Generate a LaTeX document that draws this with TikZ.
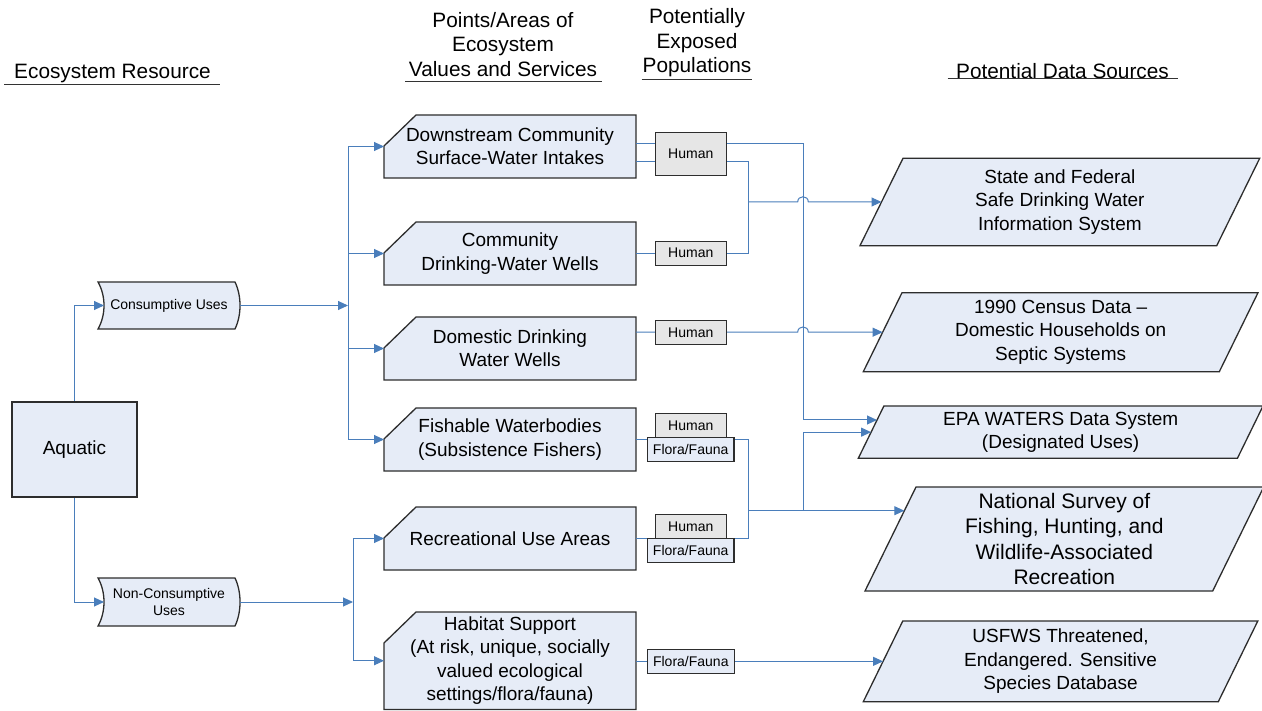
\documentclass[tikz,border=0pt]{standalone}
\usepackage{fontspec}
\setmainfont{Liberation Sans}
\usetikzlibrary{arrows.meta,calc}
\pgfdeclarelayer{bg}
\pgfdeclarelayer{wires}
\pgfsetlayers{bg,wires,main}

\definecolor{boxfill}{RGB}{230,236,247}
\definecolor{popfill}{RGB}{230,230,230}
\definecolor{wire}{RGB}{74,126,187}
\definecolor{edge}{RGB}{45,45,45}

\tikzset{
  shapeline/.style={draw=edge, line width=1.3pt, fill=boxfill},
  txt/.style={inner sep=0pt, outer sep=0pt, align=center, text=black},
  body/.style={txt, font=\fontsize{19}{23.4}\selectfont},
  bigbody/.style={txt, font=\fontsize{21}{25.4}\selectfont},
  head/.style={txt, font=\fontsize{20.8}{24.5}\selectfont},
  small/.style={txt, font=\fontsize{14}{16.7}\selectfont},
  card/.style={body, minimum width=252pt, minimum height=63pt},
  popbox/.style={small, draw=edge, line width=1.2pt, fill=popfill,
    minimum width=71pt, minimum height=24pt},
  biotabox/.style={small, draw=edge, line width=1.2pt, fill=boxfill,
    minimum width=86.7pt, minimum height=24pt},
  wireline/.style={draw=wire, line width=1pt},
  arrowline/.style={wireline, -{Triangle[length=10pt,width=9pt]}},
  uline/.style={draw=black!80, line width=1pt},
}

% card outline: rectangle with the top-left corner cut off
\newcommand\cardoutline[1]{%
  \begin{pgfonlayer}{bg}
    \path[shapeline] ([yshift=-31pt]#1.north west) -- ([xshift=32pt]#1.north west)
      -- (#1.north east) -- (#1.south east) -- (#1.south west) -- cycle;
  \end{pgfonlayer}}

% data outline: parallelogram leaning right, #2 = horizontal slant offset
\newcommand\dataoutline[2]{%
  \begin{pgfonlayer}{bg}
    \path[shapeline] ([xshift=#2pt]#1.north west) -- (#1.north east)
      -- ([xshift=-#2pt]#1.south east) -- (#1.south west) -- cycle;
  \end{pgfonlayer}}

% category outline: concave left end, convex right end
\newcommand\tapeoutline[1]{%
  \begin{pgfonlayer}{bg}
    \path[shapeline] (#1.north west) -- ([xshift=-5pt]#1.north east)
      .. controls ([xshift=1.7pt,yshift=-14pt]#1.north east)
             and ([xshift=1.7pt,yshift=14pt]#1.south east)
      .. ([xshift=-5pt]#1.south east) -- (#1.south west)
      .. controls ([xshift=8pt,yshift=14pt]#1.south west)
             and ([xshift=8pt,yshift=-14pt]#1.north west)
      .. (#1.north west) -- cycle;
  \end{pgfonlayer}}

\begin{document}
\begin{tikzpicture}[x=1pt,y=-1pt]
\begin{pgfonlayer}{bg}
  \fill[white] (0,0) rectangle (1262,711);
\end{pgfonlayer}
\useasboundingbox (0,0) rectangle (1262,711);

% column headings
\node[head] (hres) at (112.5,74) {Ecosystem Resource};
\node[head] (hval) at (503,44.5) {Points/Areas of\\Ecosystem\\Values and Services};
\node[head] (hpop) at (697,43) {Potentially\\Exposed\\Populations};
\node[head] (hsrc) at (1062.5,71) {Potential Data Sources};
\draw[uline] (4,84.5) -- (220,84.5);
\draw[uline] (405,81.7) -- (601.7,81.7);
\draw[uline] (641.7,80) -- (751.7,80);
\draw[uline] (947.7,78.3) -- (1177.7,78.3);

% ecosystem resource and its use categories
\node[body, shapeline, minimum width=125pt, minimum height=95pt] (aq) at (74.5,449.5) {Aquatic};
\node[small, minimum width=142pt, minimum height=47pt] (cons) at (169,305.5) {Consumptive Uses};
\tapeoutline{cons}
\node[small, minimum width=142pt, minimum height=48pt] (noncons) at (169,602) {Non-Consumptive\\Uses};
\tapeoutline{noncons}

% values and services
\node[card] (down) at (510,146.5) {Downstream Community\\Surface-Water Intakes};
\cardoutline{down}
\node[card] (comm) at (510,253.5) {Community\\Drinking-Water Wells};
\cardoutline{comm}
\node[card] (dom) at (510,348.5) {Domestic Drinking\\Water Wells};
\cardoutline{dom}
\node[card] (fish) at (510,439.5) {Fishable Waterbodies\\(Subsistence Fishers)};
\cardoutline{fish}
\node[card] (rec) at (510,538.5) {Recreational Use Areas};
\cardoutline{rec}
\node[card, minimum height=97.5pt] (hab) at (510,660.75)
  {Habitat Support\\(At risk, unique, socially\\valued ecological\\settings/flora/fauna)};
\cardoutline{hab}

% exposed populations
\node[popbox, minimum height=43.4pt] (h1) at (690.8,154) {Human};
\node[popbox] (h2) at (690.8,253.2) {Human};
\node[popbox] (h3) at (690.8,332.5) {Human};
\node[popbox] (h4) at (690.8,425.3) {Human};
\node[biotabox] (f4) at (690.7,449.3) {Flora/Fauna};
\node[popbox] (h5) at (690.8,526.7) {Human};
\node[biotabox] (f5) at (690.7,550.5) {Flora/Fauna};
\node[biotabox] (f6) at (690.8,661.3) {Flora/Fauna};

% data sources
\node[body, minimum width=399.7pt, minimum height=87.4pt] (sdw) at (1059.85,202)
  {State and Federal\\Safe Drinking Water\\Information System};
\dataoutline{sdw}{43}
\node[body, minimum width=394.7pt, minimum height=79pt] (cen) at (1060.65,332.2)
  {1990 Census Data –\\Domestic Households on\\Septic Systems};
\dataoutline{cen}{38.7}
\node[body, minimum width=404.7pt, minimum height=52.3pt] (epa) at (1060.65,432.15)
  {EPA WATERS Data System\\(Designated Uses)};
\dataoutline{epa}{25.6}
\node[bigbody, minimum width=398.7pt, minimum height=104pt] (nsv) at (1064.35,539)
  {National Survey of\\Fishing, Hunting, and\\Wildlife-Associated\\Recreation};
\dataoutline{nsv}{51}
\node[body, minimum width=394.5pt, minimum height=80.7pt] (usf) at (1060.55,661.35)
  {USFWS Threatened,\\Endangered. Sensitive\\Species Database};
\dataoutline{usf}{39.5}

% routing points
\coordinate (busA) at (348,305.5);
\coordinate (busB) at (353,602);
\coordinate (mergeX) at (748,0);
\coordinate (trunkX) at (803,0);
\coordinate (sdw-in) at ([xshift=21.5pt]sdw.west);
\coordinate (cen-in) at ([xshift=19.35pt]cen.west);
\coordinate (epa-a) at ([xshift=18.7pt,yshift=12.15pt]epa.west);
\coordinate (epa-b) at ([xshift=12.8pt]epa.west);
\coordinate (nsv-in) at ([xshift=39.3pt,yshift=28.3pt]nsv.west);
\coordinate (usf-in) at ([xshift=19.75pt]usf.west);
\coordinate (hopS) at (trunkX |- sdw-in);
\coordinate (hopC) at (trunkX |- cen-in);

\begin{pgfonlayer}{wires}
  % resource to categories
  \draw[arrowline] (aq.north) |- ([xshift=6pt]cons.west);
  \draw[arrowline] (aq.south) |- ([xshift=6pt]noncons.west);
  % consumptive uses bus
  \draw[arrowline] (cons.east) -- (busA);
  \draw[wireline] (busA |- down.west) -- (busA |- fish.west);
  \foreach \n in {down,comm,dom,fish}
    \draw[arrowline] (busA |- \n.west) -- (\n.west);
  % non-consumptive uses bus
  \draw[arrowline] (noncons.east) -- (busB);
  \draw[wireline] (busB |- rec.west) -- (busB |- hab.west);
  \foreach \n in {rec,hab}
    \draw[arrowline] (busB |- \n.west) -- (\n.west);

  % drinking water intakes and wells to SDWIS
  \draw[wireline] ([yshift=-15.5pt]down.east) -| (mergeX |- comm.east) -- (comm.east);
  \draw[arrowline] (mergeX |- sdw-in) -- ([xshift=-5.3pt]hopS)
    .. controls ([xshift=-5.3pt,yshift=7pt]hopS) and ([xshift=5.3pt,yshift=7pt]hopS)
    .. ([xshift=5.3pt]hopS) -- (sdw-in);
  % intakes to WATERS
  \draw[arrowline] ([yshift=2.5pt]down.east) -| (trunkX |- epa-a) -- (epa-a);
  % domestic wells to census data
  \draw[arrowline] (dom.east |- cen-in) -- ([xshift=-5.3pt]hopC)
    .. controls ([xshift=-5.3pt,yshift=7pt]hopC) and ([xshift=5.3pt,yshift=7pt]hopC)
    .. ([xshift=5.3pt]hopC) -- (cen-in);
  % fishing and recreation
  \draw[wireline] (fish.east) -| (mergeX |- rec.east) -- (rec.east);
  \draw[arrowline] (mergeX |- nsv-in) -- (nsv-in);
  \draw[arrowline] (trunkX |- nsv-in) -- (trunkX |- epa-b) -- (epa-b);
  % habitat to species database
  \draw[arrowline] (hab.east |- usf-in) -- (usf-in);
\end{pgfonlayer}
\end{tikzpicture}
\end{document}
